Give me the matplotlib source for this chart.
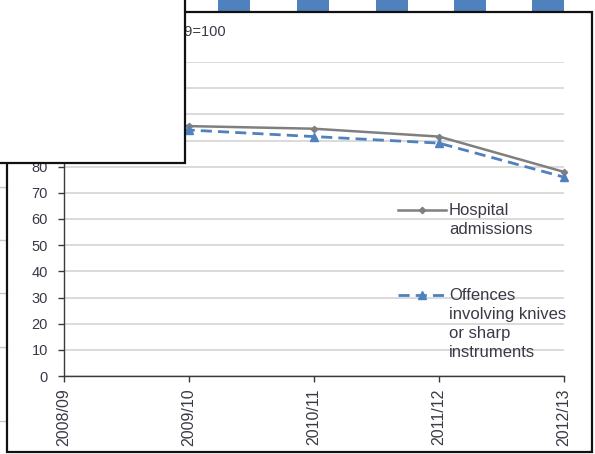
import matplotlib
matplotlib.use("Agg")
import matplotlib.pyplot as plt
from matplotlib.patches import Rectangle
from matplotlib.lines import Line2D

# ---- data -------------------------------------------------------------
years = ["2008/09", "2009/10", "2010/11", "2011/12", "2012/13"]
hospital = [100, 95.5, 94.5, 91.5, 78]
offences = [100, 94, 91.5, 89, 76]
y_ticks = list(range(0, 130, 10))
title = "Index: 2008/09=100"
hospital_label = "Hospital\nadmissions"
offences_label = "Offences\ninvolving knives\nor sharp\ninstruments"

# ---- figure -----------------------------------------------------------
plt.rcParams['font.family'] = ['Liberation Sans', 'DejaVu Sans']
W, H = 595, 454
fig = plt.figure(figsize=(W / 100, H / 100), dpi=100)


def fx(px):
    return px / W


def fy(py):
    return 1 - py / H


text_col = '#3c3846'
grey = '#7f7f7f'
blue = '#4f81bd'

ax = fig.add_axes([fx(64), fy(376), fx(564) - fx(64), fy(62) - fy(376)])
x = list(range(len(years)))
ax.plot(x, hospital, color=grey, lw=1.8, marker='D', ms=3.2,
        label=hospital_label, zorder=3, clip_on=False)
ax.plot(x, offences, color=blue, lw=2, dashes=(4, 2.2), marker='^', ms=5.5,
        label=offences_label, zorder=4, clip_on=False)

ax.set_xlim(0, len(years) - 1)
ax.set_ylim(y_ticks[0], y_ticks[-1])
ax.set_yticks(y_ticks)
ax.set_xticks(x)
ax.set_xticklabels(years, rotation=90, va='top', ha='center')
ax.yaxis.grid(True, color='#d4d4d4', lw=1.2)
ax.set_axisbelow(True)
for s in ('top', 'right'):
    ax.spines[s].set_visible(False)
for s in ('left', 'bottom'):
    ax.spines[s].set_color('#3a3a3a')
    ax.spines[s].set_linewidth(1.0)
ax.tick_params(axis='y', length=4.5, width=1, color='#3a3a3a', pad=7,
               labelsize=10.5, labelcolor=text_col)
ax.tick_params(axis='x', length=4, width=1, color='#3a3a3a', pad=5,
               labelsize=11.5, labelcolor=text_col)

leg = ax.legend(loc='upper left', bbox_to_anchor=(fx(398), fy(203)),
                bbox_transform=fig.transFigure, frameon=False, borderpad=0,
                borderaxespad=0, handlelength=2.85, handleheight=1.0,
                handletextpad=0.2, labelspacing=3.1, numpoints=1,
                fontsize=12, labelcolor=text_col)
for t in leg.get_texts():
    t.set_linespacing(1.31)
for col in leg._legend_handle_box.get_children():
    for item in col.get_children():
        item.align = 'top'

fig.text(fx(226), fy(32), title, ha='right', va='center', fontsize=10.5,
         color=text_col)

# ---- surrounding frame ------------------------------------------------
fig.patches.append(Rectangle((fx(7), fy(452)), fx(592) - fx(7), fy(12) - fy(452),
                             transform=fig.transFigure, fill=False,
                             edgecolor='#111111', lw=1.6, zorder=5))
for bx in (218, 297, 376, 454, 532):
    fig.patches.append(Rectangle((fx(bx), fy(12)), fx(32), fy(0) - fy(12) + 0.01,
                                 transform=fig.transFigure, facecolor=blue,
                                 edgecolor='none', zorder=4))
for ly in (187, 240, 293, 347, 421):
    fig.lines.append(Line2D([0, fx(7)], [fy(ly), fy(ly)], transform=fig.transFigure,
                            color='#c8c8c8', lw=1, zorder=4))
fig.patches.append(Rectangle((fx(-10), fy(163)), fx(195), fy(-10) - fy(163),
                             transform=fig.transFigure, facecolor='white',
                             edgecolor='#111111', lw=1.6, zorder=10))

fig.savefig('out.png', dpi=100)
